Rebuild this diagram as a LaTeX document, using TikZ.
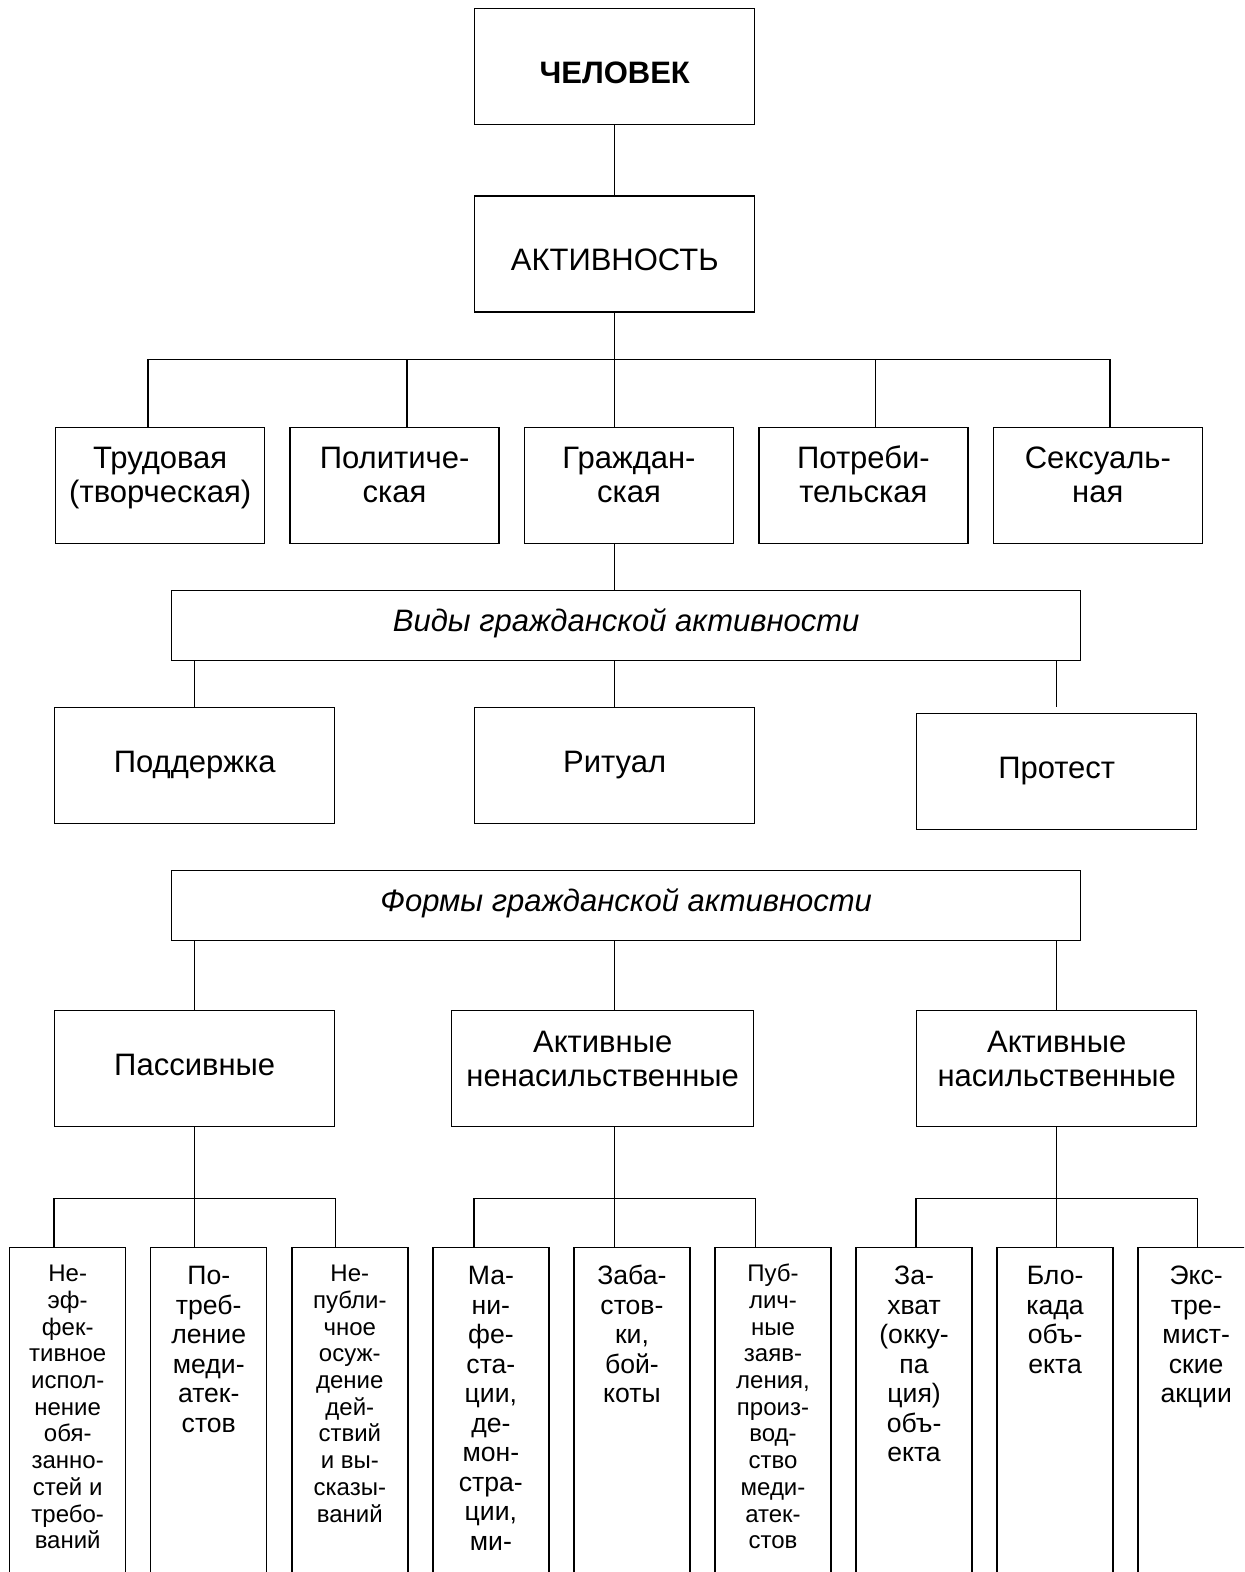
\documentclass[tikz,border=0pt]{standalone}
\usepackage{fontspec}
\setmainfont{Liberation Sans}
\usetikzlibrary{positioning}

\begin{document}
\begin{tikzpicture}[x=0.5pt,y=-0.5pt,line width=0.7pt,
    box/.style={draw,inner xsep=2pt,inner ysep=0pt,align=center,
        font=\fontsize{15.5}{17}\selectfont},
    wide/.style={box,minimum width=140pt},
    row/.style={box,minimum width=104.5pt,text height=37.5pt,text depth=20.5pt},
    band/.style={box,minimum width=454.5pt,text height=20.5pt,text depth=14.5pt,
        font=\fontsize{15.5}{17}\selectfont\itshape},
    narrow/.style={draw,inner xsep=1pt,inner ysep=0pt,align=center,
        minimum width=58pt,text height=#1,text depth=160pt,
        font=\fontsize{12}{13.35}\selectfont},
    tall/.style={narrow=#1,font=\fontsize{13.3}{14.75}\selectfont}]

\useasboundingbox (0,0) rectangle (1244,1572);
\clip (0,0) rectangle (1244,1572);

\node[wide,
    anchor=north west,
    text height=37.5pt,
    text depth=20.5pt
] (blockMan) at (474,8) {\textbf{ЧЕЛОВЕК}};

\node[wide,
    below=35pt of blockMan,
    text height=37.25pt,
    text depth=20.75pt
] (blockAct) {АКТИВНОСТЬ};

\node[row, anchor=north west] (blockLabour) at (55,427) {Трудовая\\(творческая)};
\node[row, right=12pt of blockLabour] (blockPolit) {Политиче-\\ская};
\node[row, right=12pt of blockPolit] (blockCivil) {Граждан-\\ская};
\node[row, right=12pt of blockCivil] (blockConsum) {Потреби-\\тельская};
\node[row, right=12pt of blockConsum] (blockSex) {Сексуаль-\\ная};

\node[band, anchor=north west] (blockTypes) at (171,590) {Виды гражданской активности};

\node[wide,
    anchor=north west,
    text height=32.5pt,
    text depth=25.5pt
] (blockSupport) at (54,707) {Поддержка};

\node[wide,
    anchor=north west,
    text height=32.5pt,
    text depth=25.5pt
] (blockRitual) at (474,707) {Ритуал};

\node[wide,
    anchor=north west,
    text height=32.5pt,
    text depth=25.5pt
] (blockProtest) at (916,713) {Протест};

\node[band, anchor=north west] (blockForms) at (171,870) {Формы гражданской активности};

\node[wide,
    anchor=north west,
    text height=32.5pt,
    text depth=25.5pt
] (blockPassive) at (54,1010) {Пассивные};

\node[box,
    anchor=north west,
    minimum width=151pt,
    text height=38pt,
    text depth=20pt
] (blockNonViol) at (451,1010) {Активные\\ненасильственные};

\node[wide,
    anchor=north west,
    text height=38pt,
    text depth=20pt
] (blockViol) at (916,1010) {Активные\\насильственные};

% forms, bottom row
\node[narrow=150.5pt, anchor=north west] (blockP1) at (9,1247)
    {Не-\\эф-\\фек-\\тивное\\испол-\\нение\\обя-\\занно-\\стей и\\требо-\\ваний};
\node[tall=92.25pt, right=11.83pt of blockP1.north east, anchor=north west] (blockP2)
    {По-\\треб-\\ление\\меди-\\атек-\\стов};
\node[narrow=137.15pt, right=11.83pt of blockP2.north east, anchor=north west] (blockP3)
    {Не-\\публи-\\чное\\осуж-\\дение\\дей-\\ствий\\и вы-\\сказы-\\ваний};
\node[tall=151.25pt, right=11.83pt of blockP3.north east, anchor=north west] (blockN1)
    {Ма-\\ни-\\фе-\\ста-\\ции,\\де-\\мон-\\стра-\\ции,\\ми-};
\node[tall=77.5pt, right=11.83pt of blockN1.north east, anchor=north west] (blockN2)
    {Заба-\\стов-\\ки,\\бой-\\коты};
\node[narrow=150.5pt, right=11.83pt of blockN2.north east, anchor=north west] (blockN3)
    {Пуб-\\лич-\\ные\\заяв-\\ления,\\произ-\\вод-\\ство\\меди-\\атек-\\стов};
\node[tall=107pt, right=11.83pt of blockN3.north east, anchor=north west] (blockV1)
    {За-\\хват\\(окку-\\па\\ция)\\объ-\\екта};
\node[tall=62.75pt, right=11.83pt of blockV1.north east, anchor=north west] (blockV2)
    {Бло-\\када\\объ-\\екта};
\node[tall=77.5pt, right=11.83pt of blockV2.north east, anchor=north west] (blockV3)
    {Экс-\\тре-\\мист-\\ские\\акции};

\coordinate (busAct) at ([yshift=-23.5pt]blockAct.south);
\coordinate (dropLabour) at ([xshift=46.5pt]blockLabour.north west);
\coordinate (dropPolit) at ([xshift=-46.5pt]blockPolit.north east);
\coordinate (dropConsum) at ([xshift=-46.5pt]blockConsum.north east);
\coordinate (dropSex) at ([xshift=-46.5pt]blockSex.north east);
\coordinate (busPassive) at ([yshift=-35.5pt]blockPassive.south);
\coordinate (busNonViol) at (blockRitual |- busPassive);
\coordinate (busViol) at ([yshift=-35.5pt]blockViol.south);

\draw (blockMan) -- (blockAct);
\draw (blockAct) -- (busAct);
\draw (dropLabour) |- (busAct) -| (dropSex);
\draw (dropPolit) -- (dropPolit |- busAct);
\draw (blockAct |- blockCivil.north) -- (busAct);
\draw (dropConsum) -- (dropConsum |- busAct);

\draw (blockAct |- blockCivil.south) -- (blockAct |- blockTypes.north);
\draw (blockSupport |- blockTypes.south) -- (blockSupport);
\draw (blockRitual |- blockTypes.south) -- (blockRitual);
\draw (blockProtest |- blockTypes.south) -- ([yshift=3pt]blockProtest.north);

\draw (blockPassive |- blockForms.south) -- (blockPassive);
\draw (blockRitual |- blockForms.south) -- (blockRitual |- blockNonViol.north);
\draw (blockViol |- blockForms.south) -- (blockViol);

\draw (blockPassive) -- (busPassive);
\draw (blockP1.north -| blockPassive.west) |- (busPassive) -| (blockP3.north -| blockPassive.east);
\draw (busPassive) -- (busPassive |- blockP2.north);

\draw (blockRitual |- blockNonViol.south) -- (busNonViol);
\draw (blockN1.north -| blockRitual.west) |- (busNonViol) -| (blockN3.north -| blockRitual.east);
\draw (busNonViol) -- (busNonViol |- blockN2.north);

\draw (blockViol) -- (busViol);
\draw (blockV1.north -| blockViol.west) |- (busViol) -| (blockV3.north -| blockViol.east);
\draw (busViol) -- (busViol |- blockV2.north);

\end{tikzpicture}
\end{document}
